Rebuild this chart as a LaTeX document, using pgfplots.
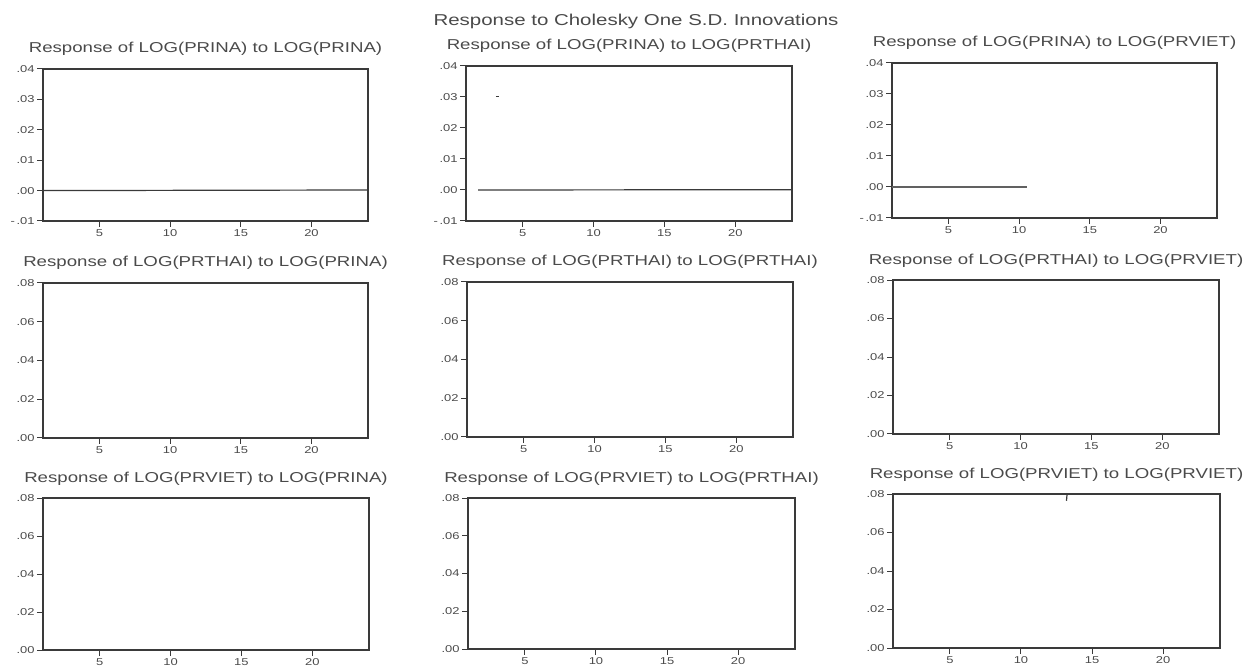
\documentclass[border=0pt]{standalone}
\usepackage{fontspec}
\setmainfont{Liberation Sans}[FakeStretch=1.3]
\usepackage{pgfplots}
\pgfplotsset{compat=1.18}
\definecolor{ink}{HTML}{3A3A3A}
\definecolor{txt}{HTML}{4A4A4A}
\pgfplotsset{
  ev/.style={
    scale only axis, anchor=south west,
    xmin=1, xmax=24, xtick={5,10,15,20},
    scaled y ticks=false, scaled x ticks=false,
    axis line style={ink, line width=0.6bp},
    tick style={ink, line width=0.5bp},
    major tick length=3bp,
    tick align=outside,
    xtick pos=bottom, ytick pos=left,
    tick label style={font=\fontsize{5}{6}\selectfont, text=txt, inner sep=1pt},
    /pgf/number format/assume math mode=true,
    every axis title/.style={at={(0.5,1)}, anchor=base, yshift=8bp, font=\fontsize{7.2}{8}\selectfont, text=txt},
    clip=false,
  },
  evA/.style={ev, ymin=-0.01, ymax=0.04, ytick={-0.01,0,0.01,0.02,0.03,0.04},
    yticklabels={-\,.01,.00,.01,.02,.03,.04}},
  evB/.style={ev, ymin=0, ymax=0.08, ytick={0,0.02,0.04,0.06,0.08},
    yticklabels={.00,.02,.04,.06,.08}},
}
\begin{document}
\begin{tikzpicture}
\path[use as bounding box] (0,0) rectangle (628.5bp,333.5bp);
\node[font=\fontsize{7.9}{9}\selectfont, text=txt] at (318bp,323bp) {Response to Cholesky One S.D. Innovations};
% Row 1
\begin{axis}[evA, at={(21.5bp,223bp)}, width=162.5bp, height=76bp,
  title={Response of LOG(PRINA) to LOG(PRINA)}]
  \addplot[ink, line width=0.6bp] coordinates {(1,0) (24,0.0002)};
\end{axis}
\begin{axis}[evA, at={(233bp,223bp)}, width=163bp, height=77.5bp,
  title={Response of LOG(PRINA) to LOG(PRTHAI)}]
  \addplot[ink, line width=0.6bp] coordinates {(1.85,0) (24,0.0001)};
  \addplot[ink, line width=0.6bp] coordinates {(3.1,0.0302) (3.3,0.0302)};
\end{axis}
\begin{axis}[evA, at={(446bp,224.5bp)}, width=162.5bp, height=77.5bp,
  title={Response of LOG(PRINA) to LOG(PRVIET)}]
  \addplot[ink!80, line width=0.6bp] coordinates {(1,0) (10.55,0)};
\end{axis}
% Row 2
\begin{axis}[evB, at={(21.5bp,114.5bp)}, width=162.5bp, height=77.5bp,
  title={Response of LOG(PRTHAI) to LOG(PRINA)}]
\end{axis}
\begin{axis}[evB, at={(233.5bp,115bp)}, width=163bp, height=77.5bp,
  title={Response of LOG(PRTHAI) to LOG(PRTHAI)}]
\end{axis}
\begin{axis}[evB, at={(446.5bp,116.5bp)}, width=163bp, height=77bp,
  title={Response of LOG(PRTHAI) to LOG(PRVIET)}]
\end{axis}
% Row 3
\begin{axis}[evB, at={(21.5bp,8.5bp)}, width=163bp, height=76bp,
  title={Response of LOG(PRVIET) to LOG(PRINA)}]
\end{axis}
\begin{axis}[evB, at={(234bp,9bp)}, width=163.5bp, height=75.5bp,
  title={Response of LOG(PRVIET) to LOG(PRTHAI)}]
\end{axis}
\begin{axis}[evB, at={(446.5bp,9.5bp)}, width=163.5bp, height=77bp,
  title={Response of LOG(PRVIET) to LOG(PRVIET)}]
  \addplot[ink, line width=0.6bp] coordinates {(13.2,0.0765) (13.25,0.0805)};
\end{axis}
\end{tikzpicture}
\end{document}
